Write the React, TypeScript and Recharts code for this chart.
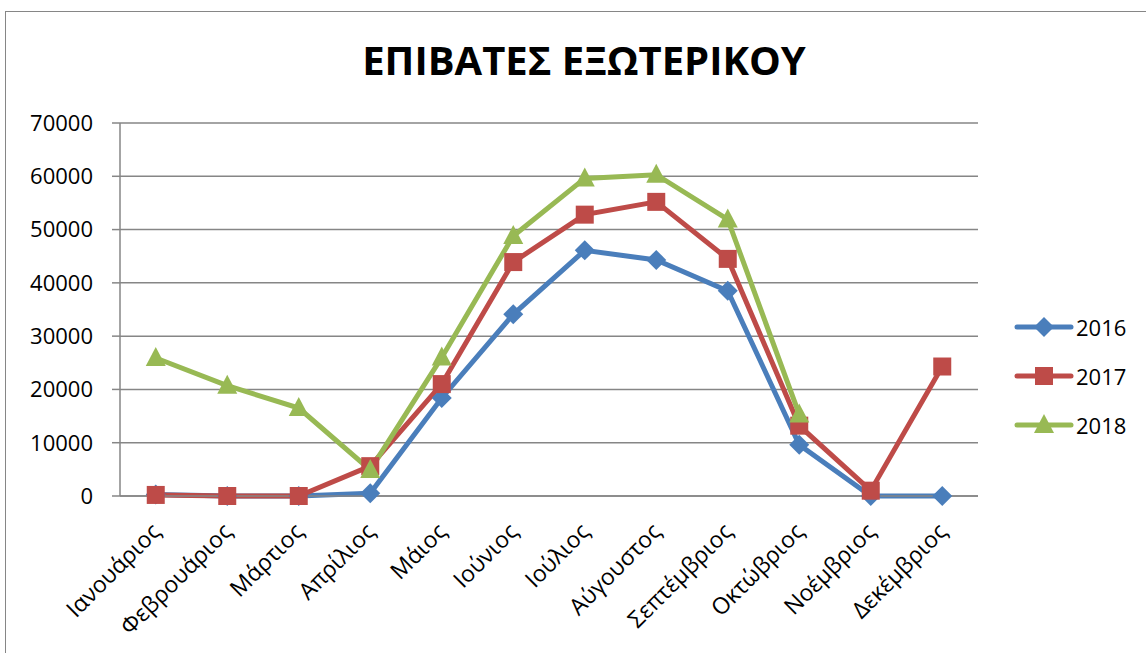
import React from "react";
import { LineChart, Line, XAxis, YAxis, CartesianGrid } from "recharts";

const MONTHS = [
  "Ιανουάριος",
  "Φεβρουάριος",
  "Μάρτιος",
  "Απρίλιος",
  "Μάιος",
  "Ιούνιος",
  "Ιούλιος",
  "Αύγουστος",
  "Σεπτέμβριος",
  "Οκτώβριος",
  "Νοέμβριος",
  "Δεκέμβριος",
];

const Y2016 = [300, 0, 0, 500, 18400, 34100, 46100, 44300, 38500, 9600, 0, 0];
const Y2017 = [200, 0, 0, 5600, 21000, 43900, 52800, 55200, 44500, 13200, 1000, 24300];
const Y2018 = [25900, 20700, 16500, 4900, 26000, 48800, 59600, 60300, 51900, 15300, null, null];

const Y_TICKS = [0, 10000, 20000, 30000, 40000, 50000, 60000, 70000];

const BLUE = "#4A7EBB";
const RED = "#BE4B48";
const GREEN = "#98B954";
const GRID = "#868686";
const FONT = "'Open Sans', 'Noto Sans', sans-serif";

const data = MONTHS.map((month, i) => ({
  month,
  pos: i + 0.5,
  y2016: Y2016[i],
  y2017: Y2017[i],
  y2018: Y2018[i],
}));

// tick marks sit between months, labels at month centres
const BOUNDS = MONTHS.map((_, i) => i).concat([MONTHS.length]);
const CENTERS = MONTHS.map((_, i) => i + 0.5);

function Marker({ kind, cx, cy, color }: { kind: string; cx: number; cy: number; color: string }) {
  if (kind === "diamond") {
    const r = 10;
    return <polygon points={`${cx},${cy - r} ${cx + r},${cy} ${cx},${cy + r} ${cx - r},${cy}`} fill={color} />;
  }
  if (kind === "square") {
    const r = 9;
    return <rect x={cx - r} y={cy - r} width={r * 2} height={r * 2} fill={color} />;
  }
  return (
    <polygon points={`${cx},${cy - 11} ${cx + 10},${cy + 8} ${cx - 10},${cy + 8}`} fill={color} />
  );
}

const makeDot = (kind: string, color: string) => (props: any) => {
  const { cx, cy, index, value } = props;
  if (value == null || cx == null || cy == null) return <g key={`d-${kind}-${index}`} />;
  return (
    <g key={`d-${kind}-${index}`}>
      <Marker kind={kind} cx={cx} cy={cy} color={color} />
    </g>
  );
};

const SERIES = [
  { key: "y2016", name: "2016", color: BLUE, kind: "diamond" },
  { key: "y2017", name: "2017", color: RED, kind: "square" },
  { key: "y2018", name: "2018", color: GREEN, kind: "triangle" },
];

function MonthTick(props: any) {
  const { x, y, payload } = props;
  const label = MONTHS[Math.floor(payload.value)];
  const ax = x + 6;
  const ay = y + 21;
  return (
    <text
      x={ax}
      y={ay}
      transform={`rotate(-45, ${ax}, ${ay})`}
      textAnchor="end"
      fontSize={23}
      fontFamily={FONT}
      fill="#000"
    >
      {label}
    </text>
  );
}

function LegendBox() {
  return (
    <div style={{ fontFamily: FONT }}>
      {SERIES.map((s) => (
        <div key={s.key} style={{ display: "flex", alignItems: "center", height: 49 }}>
          <svg width={60} height={24}>
            <line x1={3} y1={12} x2={57} y2={12} stroke={s.color} strokeWidth={5} strokeLinecap="round" />
            <Marker kind={s.kind} cx={30} cy={12} color={s.color} />
          </svg>
          <span style={{ fontSize: 22, color: "#000", marginLeft: 2 }}>{s.name}</span>
        </div>
      ))}
    </div>
  );
}

export default function App() {
  return (
    <div style={{ position: "absolute", left: 0, top: 0, width: 1146, height: 653, background: "#fff", overflow: "hidden" }}>
      <div
        style={{
          position: "absolute",
          left: 5,
          top: 11,
          width: 1160,
          height: 660,
          border: `1.5px solid ${GRID}`,
        }}
      />
      <div
        style={{
          position: "absolute",
          left: 0,
          width: 1168,
          top: 32,
          textAlign: "center",
          fontFamily: FONT,
          fontWeight: 700,
          fontSize: 40,
          color: "#000",
        }}
      >
        ΕΠΙΒΑΤΕΣ ΕΞΩΤΕΡΙΚΟΥ
      </div>
      <div style={{ position: "absolute", left: 0, top: 0 }}>
        <LineChart width={1146} height={653} data={data} margin={{ top: 123, right: 168, bottom: 0, left: 0 }}>
          <CartesianGrid xAxisId="grid" vertical={false} stroke={GRID} strokeWidth={1.5} />
          <XAxis
            xAxisId="grid"
            type="number"
            dataKey="pos"
            domain={[0, 12]}
            ticks={BOUNDS}
            tick={false}
            tickSize={7}
            height={8}
            stroke={GRID}
            strokeWidth={1.5}
          />
          <XAxis
            xAxisId="lab"
            type="number"
            dataKey="pos"
            domain={[0, 12]}
            ticks={CENTERS}
            axisLine={false}
            tickLine={false}
            tick={<MonthTick />}
            height={149}
            interval={0}
          />
          <YAxis
            domain={[0, 70000]}
            ticks={Y_TICKS}
            width={120}
            tickSize={8}
            tickMargin={19}
            stroke={GRID}
            strokeWidth={1.5}
            tick={{ fill: "#000", fontSize: 22, fontFamily: FONT }}
          />
          {SERIES.map((s) => (
            <Line
              key={s.key}
              xAxisId="grid"
              type="linear"
              dataKey={s.key}
              name={s.name}
              stroke={s.color}
              strokeWidth={5}
              dot={makeDot(s.kind, s.color)}
              activeDot={false}
              isAnimationActive={false}
            />
          ))}
        </LineChart>
      </div>
      <div style={{ position: "absolute", left: 1014, top: 302, width: 132 }}>
        <LegendBox />
      </div>
    </div>
  );
}
